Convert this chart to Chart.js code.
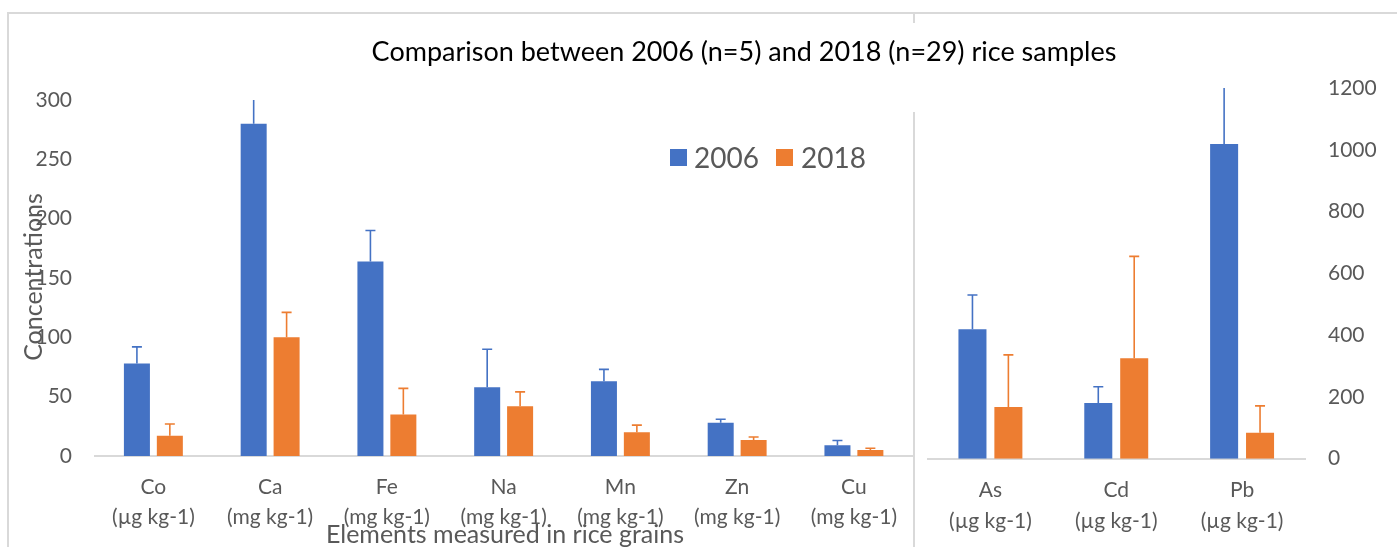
<!DOCTYPE html>
<html>
<head>
<meta charset="utf-8">
<script src="https://cdn.jsdelivr.net/npm/chart.js@4.4.1/dist/chart.umd.min.js"></script>
<style>
  html, body { margin: 0; padding: 0; background: #fff; width: 1397px; height: 547px; overflow: hidden; font-family: Lato, "Open Sans", sans-serif; }
  .line { position: absolute; background: #d9d9d9; }
  canvas { position: absolute; }
  #left-wrap { position: absolute; left: 8px; top: 13px; width: 905px; height: 534px; }
  #right-wrap { position: absolute; left: 913px; top: 13px; width: 484px; height: 534px; }
  #title { position: absolute; left: 344px; width: 800px; top: 36px; line-height: 30px; text-align: center; font-size: 27px; color: #000; white-space: nowrap; }
  .legend-box { position: absolute; width: 17px; height: 17px; top: 149px; }
  .legend-text { position: absolute; top: 142px; font-size: 28px; line-height: 30px; color: #595959; }
  #y-title { position: absolute; left: -68px; top: 262px; width: 200px; height: 30px; line-height: 30px; text-align: center; font-size: 25px; color: #595959; transform: rotate(-90deg); }
  #x-title { position: absolute; left: 305px; width: 400px; top: 518px; line-height: 30px; text-align: center; font-size: 25px; color: #595959; white-space: nowrap; }
</style>
</head>
<body>
<div class="line" style="left:7px; top:12px; width:1390px; height:2px;"></div>
<div class="line" style="left:7px; top:12px; width:2px; height:535px;"></div>
<div class="line" style="left:913px; top:12px; width:2px; height:11px;"></div>
<div class="line" style="left:913px; top:112px; width:2px; height:435px;"></div>

<div id="left-wrap"><canvas id="chart-left"></canvas></div>
<div id="right-wrap"><canvas id="chart-right"></canvas></div>

<div id="title">Comparison between 2006 (n=5) and 2018 (n=29) rice samples</div>
<div class="legend-box" style="left:670px; background:#4472C4;"></div>
<div class="legend-text" style="left:694px;">2006</div>
<div class="legend-box" style="left:776px; background:#ED7D31;"></div>
<div class="legend-text" style="left:801px;">2018</div>
<div id="y-title">Concentrations</div>
<div id="x-title">Elements measured in rice grains</div>

<script>
const leftCategories = [
  ["Co", "(µg kg-1)"], ["Ca", "(mg kg-1)"], ["Fe", "(mg kg-1)"], ["Na", "(mg kg-1)"],
  ["Mn", "(mg kg-1)"], ["Zn", "(mg kg-1)"], ["Cu", "(mg kg-1)"],
];
const left2006 = [78, 280, 164, 58, 63, 28, 9];
const left2006Err = [14, 25, 26, 32, 10, 3, 4];
const left2018 = [17, 100, 35, 42, 20, 13.5, 5];
const left2018Err = [10, 21, 22, 12, 6, 2.5, 1.5];
const leftTicks = [0, 50, 100, 150, 200, 250, 300];

const rightCategories = [["As", "(µg kg-1)"], ["Cd", "(µg kg-1)"], ["Pb", "(µg kg-1)"]];
const right2006 = [419, 180, 1019];
const right2006Err = [111, 53, 220];
const right2018 = [167, 325, 84];
const right2018Err = [169, 330, 87];
const rightTicks = [0, 200, 400, 600, 800, 1000, 1200];

const palette = { blue: "#4472C4", orange: "#ED7D31", text: "#595959", axis: "#d9d9d9" };
const tickFont = { family: "Lato", size: 21 };

// error bars, plus direction only, clipped to the plot area
const errorBars = {
  id: "errorBars",
  afterDatasetsDraw(chart) {
    const { ctx, chartArea } = chart;
    const y = chart.scales.y;
    ctx.save();
    ctx.beginPath();
    ctx.rect(chartArea.left, chartArea.top, chartArea.width, chartArea.height);
    ctx.clip();
    chart.data.datasets.forEach((ds, i) => {
      const meta = chart.getDatasetMeta(i);
      ctx.strokeStyle = ds.backgroundColor;
      ctx.lineWidth = 1.6;
      meta.data.forEach((bar, j) => {
        const top = y.getPixelForValue(ds.data[j] + ds.errors[j]);
        ctx.beginPath();
        ctx.moveTo(bar.x, bar.y);
        ctx.lineTo(bar.x, top);
        ctx.moveTo(bar.x - 5, top);
        ctx.lineTo(bar.x + 5, top);
        ctx.stroke();
      });
    });
    ctx.restore();
  },
};

function makeChart(id, cats, a, aErr, b, bErr, ticks, cfg) {
  return new Chart(document.getElementById(id), {
    type: "bar",
    data: {
      labels: cats,
      datasets: [
        { label: "2006", data: a, errors: aErr, backgroundColor: palette.blue },
        { label: "2018", data: b, errors: bErr, backgroundColor: palette.orange },
      ],
    },
    options: {
      responsive: true,
      maintainAspectRatio: false,
      animation: false,
      categoryPercentage: cfg.catPct,
      barPercentage: cfg.barPct,
      layout: { padding: cfg.padding },
      plugins: { legend: { display: false }, tooltip: { enabled: false } },
      scales: {
        x: {
          grid: { display: false, drawTicks: false },
          border: { display: true, color: palette.axis, width: 2 },
          ticks: { color: palette.text, font: { ...tickFont, lineHeight: 1.43 }, padding: cfg.xPad, maxRotation: 0, autoSkip: false },
          afterFit: (s) => { s.height = cfg.xHeight; },
        },
        y: {
          position: cfg.yPos,
          min: 0,
          max: ticks[ticks.length - 1],
          afterBuildTicks: (s) => { s.ticks = ticks.map((v) => ({ value: v })); },
          grid: { display: false, drawTicks: false },
          border: { display: false },
          ticks: { color: palette.text, font: tickFont, padding: 23, callback: (v) => String(v) },
          afterFit: (s) => { s.width = cfg.yWidth; },
        },
      },
    },
    plugins: [errorBars],
  });
}

makeChart("chart-left", leftCategories, left2006, left2006Err, left2018, left2018Err, leftTicks, {
  catPct: 0.564, barPct: 0.79, padding: { top: 87, left: 0, right: 0, bottom: 0 },
  xPad: 16, xHeight: 91, yPos: "left", yWidth: 87,
});

makeChart("chart-right", rightCategories, right2006, right2006Err, right2018, right2018Err, rightTicks, {
  catPct: 0.571, barPct: 0.78, padding: { top: 75, left: 14.5, right: 0, bottom: 0 },
  xPad: 17, xHeight: 88.3, yPos: "right", yWidth: 92,
});
</script>
</body>
</html>
